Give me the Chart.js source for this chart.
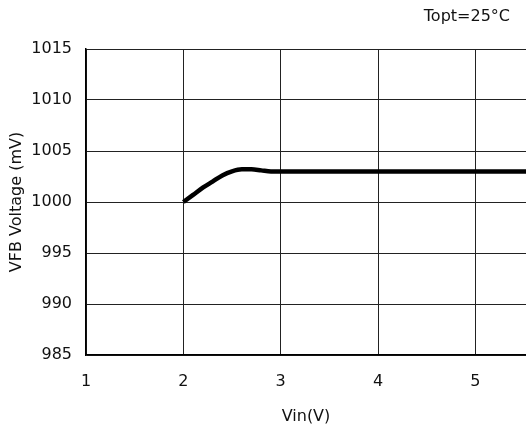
<!DOCTYPE html>
<html>
<head>
<meta charset="utf-8">
<script src="https://cdn.jsdelivr.net/npm/chart.js@4"></script>
<style>
  html, body { margin: 0; padding: 0; background: #fff; }
  #wrap { width: 526px; height: 429px; }
</style>
</head>
<body>
<div id="wrap"><canvas id="vfb-chart" width="526" height="429"></canvas></div>
<script>
// Vin (V) vs VFB voltage (mV)
const vin = [2.0, 2.1, 2.2, 2.3, 2.4, 2.5, 2.6, 2.7, 2.8, 2.9, 3.0, 3.5, 4.0, 4.5, 5.0, 5.52];
const vfb = [1000.0, 1000.7, 1001.4, 1002.0, 1002.6, 1003.0, 1003.2, 1003.2, 1003.1, 1003.0, 1003.0, 1003.0, 1003.0, 1003.0, 1003.0, 1003.0];

const xTicks = [1, 2, 3, 4, 5];
const yTicks = [985, 990, 995, 1000, 1005, 1010, 1015];
const noteText = 'Topt=25°C';

const font = { family: 'DejaVu Sans', size: 16 };

// Draw the temperature note at the top right
const notePlugin = {
    id: 'note',
    afterDraw(chart) {
        const ctx = chart.ctx;
        ctx.save();
        ctx.font = `${font.size}px ${font.family}`;
        ctx.fillStyle = '#111';
        ctx.textAlign = 'right';
        ctx.textBaseline = 'middle';
        ctx.fillText(noteText, 510, 17);
        ctx.restore();
    }
};

const ctx = document.getElementById('vfb-chart').getContext('2d');

new Chart(ctx, {
    type: 'line',
    data: {
        datasets: [{
            data: vin.map((v, i) => ({ x: v, y: vfb[i] })),
            borderColor: '#000',
            borderWidth: 4.5,
            pointRadius: 0,
            cubicInterpolationMode: 'monotone',
            fill: false
        }]
    },
    options: {
        responsive: false,
        animation: false,
        layout: { padding: { top: 49, right: 0, left: 0, bottom: 0 } },
        plugins: {
            legend: { display: false },
            tooltip: { enabled: false }
        },
        scales: {
            x: {
                type: 'linear',
                min: 1,
                max: 5.52,
                afterBuildTicks: (scale) => {
                    scale.ticks = xTicks.map(v => ({ value: v }));
                },
                afterFit: (scale) => { scale.height = 74; },
                ticks: {
                    color: '#111', font: font, padding: 17, maxRotation: 0,
                    callback: (value) => String(value)
                },
                grid: { color: '#222', lineWidth: 1, drawTicks: false },
                border: { color: '#000', width: 1.5 },
                title: {
                    display: true,
                    text: 'Vin(V)',
                    color: '#111',
                    font: font,
                    padding: { top: 0, bottom: 3 }
                }
            },
            y: {
                min: 985,
                max: 1015,
                afterBuildTicks: (scale) => {
                    scale.ticks = yTicks.map(v => ({ value: v }));
                },
                afterFit: (scale) => { scale.width = 86; },
                ticks: {
                    color: '#111', font: font, padding: 14,
                    callback: (value) => String(value)
                },
                grid: { color: '#222', lineWidth: 1, drawTicks: false },
                border: { color: '#000', width: 1.5 },
                title: {
                    display: true,
                    text: 'VFB Voltage (mV)',
                    color: '#111',
                    font: font,
                    padding: { top: 7, bottom: 0 }
                }
            }
        }
    },
    plugins: [notePlugin]
});
</script>
</body>
</html>
